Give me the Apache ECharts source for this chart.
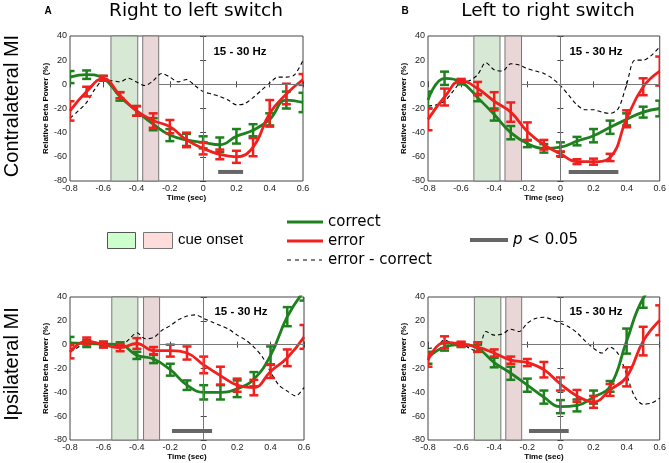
<!DOCTYPE html>
<html>
<head>
<meta charset="utf-8">
<script src="https://cdn.jsdelivr.net/npm/echarts@6/dist/echarts.min.js"></script>
<style>
  html, body { margin: 0; padding: 0; background: #fff; }
  #chart { width: 669px; height: 463px; }
</style>
</head>
<body>
<div id="chart"></div>
<script>
// sample times of the error-bar points (sec)
var time = [-0.8, -0.7, -0.6, -0.5, -0.4, -0.3, -0.2, -0.1, 0, 0.1, 0.2, 0.3, 0.4, 0.5, 0.6];
// finer time base of the error - correct curve
var diffTime = [-0.8, -0.75, -0.7, -0.65, -0.6, -0.55, -0.5, -0.45, -0.4, -0.35, -0.3, -0.25, -0.2, -0.15,
  -0.1, -0.05, 0, 0.05, 0.1, 0.15, 0.2, 0.25, 0.3, 0.35, 0.4, 0.45, 0.5, 0.55, 0.6];

// A : contralateral, right to left
var corrA = [6, 8, 5, -10, -22, -33, -42, -46, -48, -50, -43, -38, -29, -13, -15];
var corrSemA = [5, 3.5, 2, 3.5, 4, 5, 5, 5, 5, 6, 6, 5, 5, 7, 8];
var errA = [-22, -6, 5, -9, -22, -30, -35, -46, -53, -58, -60, -52, -24, -8, 4];
var errSemA = [8, 4, 2, 2.5, 4, 6, 5.5, 6, 5, 4, 5, 7.5, 11, 8.5, 4.5];
var diffA = [-28, -22, -15, -4, 3, 3, 2, 5, 2, -1, 3, 9, 6, 2, 4, -1, -6, -8, -10, -13, -17, -16, -11, -5, 1, 6, 6, 8, 20];

// B : contralateral, left to right
var corrB = [-13, 5, 2, -11, -25, -40, -49, -53, -52, -47, -42.5, -35.5, -29, -23, -20];
var corrSemB = [7, 5.5, 2, 3, 5, 5.5, 3, 3.5, 4, 3.5, 5.5, 5.5, 5, 4.5, 6.5];
var errB = [-29, -10.5, 3, -3.5, -14, -23, -39, -50, -57.5, -64, -64, -60.5, -28.5, -2, 11];
var errSemB = [9, 7, 1.5, 5.5, 7.5, 8, 7.5, 4, 2, 2, 2.5, 3, 7, 7, 12];
var diffB = [-18, -17, -14, -6, 2, 3, 8, 18, 12, 11, 17, 16, 13, 11, 9, 5, -1, -9, -17, -21, -21, -23, -24, -20, 0, 20, 20, 24, 31];

// C : ipsilateral, right to left
var corrC = [1.5, 1, 0.5, 0, -9, -12, -21, -34, -40, -40, -37, -29, -9, 23.5, 45];
var corrSemC = [5, 3, 2, 2, 3, 3.5, 5, 4, 6, 6, 7, 6, 7.5, 8, 8];
var errC = [-6, 3, 0, -2.5, 1, -5, -5, -7, -17, -26, -34, -36, -22.5, -11, 6.5];
var errSemC = [5.5, 3, 2.5, 3, 4.5, 3, 5, 5.5, 7, 7.5, 5.5, 6.5, 5.5, 7, 10];
var diffC = [-6, -2, 4, 1, -1, 0, -1, 4, 10, 5, 6, 12, 16, 21, 24, 25, 22, 19, 16, 13, 8, 4, -2, -10, -23, -34, -39, -43, -36];

// D : ipsilateral, left to right
var corrD = [-11, -2, 0, -3, -15, -24, -34, -44, -52, -51, -44, -35, 3, 39, 52];
var corrSemD = [5, 3, 2, 3, 4, 5.5, 5.5, 5.5, 5.5, 5, 5.5, 4.5, 10.5, 8, 8];
var errD = [-13, 2, 0.5, -2, -7, -13, -15, -21, -33, -43, -48, -38, -27, 3, 20.5];
var errSemD = [5.5, 5, 2, 4, 3, 3, 3, 6.5, 5.5, 5, 5, 5, 8, 12, 12.5];
var diffD = [-3, -2, 4, 1, 1, -3, -6, 11, 8, 9, 13, 11, 18, 22, 23, 21, 18, 15, 10, 3, -3, -7, -2, -8, -25, -44, -50, -49, -45];

// cue onset windows [green start, green end, pink start, pink end] (sec)
var cueA = [-0.554, -0.393, -0.363, -0.267];
var cueB = [-0.523, -0.365, -0.335, -0.235];
var cueC = [-0.55, -0.394, -0.36, -0.264];
var cueD = [-0.52, -0.36, -0.33, -0.234];

// p < 0.05 intervals (sec) and the level they are drawn at
var sigA = [0.09, 0.24];
var sigB = [0.05, 0.35];
var sigC = [-0.19, 0.05];
var sigD = [-0.19, 0.05];
var sigLevel = -72.5;

var xTicks = { min: -0.8, max: 0.6, interval: 0.2 };
var yTicks = { min: -80, max: 40, interval: 20 };

var GREEN = '#1e801e', RED = '#f0201e';

var panels = [
  { box: { left: 70, top: 36, width: 233, height: 145 }, corr: corrA, corrSem: corrSemA, err: errA, errSem: errSemA, diff: diffA, cue: cueA, sig: sigA },
  { box: { left: 428, top: 36, width: 233, height: 145 }, corr: corrB, corrSem: corrSemB, err: errB, errSem: errSemB, diff: diffB, cue: cueB, sig: sigB },
  { box: { left: 70, top: 297, width: 234, height: 143 }, corr: corrC, corrSem: corrSemC, err: errC, errSem: errSemC, diff: diffC, cue: cueC, sig: sigC },
  { box: { left: 428, top: 297, width: 234, height: 143 }, corr: corrD, corrSem: corrSemD, err: errD, errSem: errSemD, diff: diffD, cue: cueD, sig: sigD }
];

function pairs(xs, ys) {
  return ys.map(function (v, i) { return [xs[i], v]; });
}
function triples(xs, ys, es) {
  return ys.map(function (v, i) { return [xs[i], v, es[i]]; });
}

// vertical error bar with caps
function errBar(color) {
  return function (params, api) {
    var x = api.value(0), m = api.value(1), e = api.value(2);
    var top = api.coord([x, m + e]);
    var bot = api.coord([x, m - e]);
    var hw = 4.5;
    var st = { stroke: color, lineWidth: 2.5, fill: null };
    return {
      type: 'group',
      children: [
        { type: 'line', shape: { x1: top[0], y1: top[1], x2: bot[0], y2: bot[1] }, style: st },
        { type: 'line', shape: { x1: top[0] - hw, y1: top[1], x2: top[0] + hw, y2: top[1] }, style: st },
        { type: 'line', shape: { x1: bot[0] - hw, y1: bot[1], x2: bot[0] + hw, y2: bot[1] }, style: st }
      ]
    };
  };
}

var tickFont = { fontFamily: 'Liberation Sans', fontSize: 9, color: '#222' };
var nameFont = { fontFamily: 'Liberation Sans', fontSize: 8, fontWeight: 'bold', color: '#000' };

var grid = [], xAxis = [], yAxis = [], series = [];

panels.forEach(function (p, i) {
  grid.push(Object.assign({ show: true, borderColor: '#444', borderWidth: 1, containLabel: false }, p.box));
});
panels.forEach(function (p, i) {
  xAxis.push({
    gridIndex: i, type: 'value', min: xTicks.min, max: xTicks.max, interval: xTicks.interval,
    axisLine: { show: false }, splitLine: { show: false },
    axisTick: { inside: true, length: 3, lineStyle: { color: '#444' } },
    axisLabel: Object.assign({ margin: 3, formatter: function (v) { return String(+v.toFixed(1)); } }, tickFont),
    name: 'Time (sec)', nameLocation: 'middle', nameGap: 13, nameTextStyle: nameFont
  });
  yAxis.push({
    gridIndex: i, type: 'value', min: yTicks.min, max: yTicks.max, interval: yTicks.interval,
    axisLine: { show: false }, splitLine: { show: false },
    axisTick: { inside: true, length: 3, lineStyle: { color: '#444' } },
    axisLabel: Object.assign({ margin: 3 }, tickFont),
    name: 'Relative Beta Power (%)', nameLocation: 'middle', nameGap: 16, nameTextStyle: nameFont
  });
});
// top / right ticks of the box
panels.forEach(function (p, i) {
  xAxis.push({
    gridIndex: i, type: 'value', position: 'top', min: xTicks.min, max: xTicks.max, interval: xTicks.interval,
    axisLine: { show: false }, splitLine: { show: false }, axisLabel: { show: false },
    axisTick: { inside: true, length: 3, lineStyle: { color: '#444' } }
  });
  yAxis.push({
    gridIndex: i, type: 'value', position: 'right', min: yTicks.min, max: yTicks.max, interval: yTicks.interval,
    axisLine: { show: false }, splitLine: { show: false }, axisLabel: { show: false },
    axisTick: { inside: true, length: 3, lineStyle: { color: '#444' } }
  });
});

panels.forEach(function (p, i) {
  var ax = { xAxisIndex: i, yAxisIndex: i };
  // error - correct, also carries cue shading and reference lines
  series.push(Object.assign({
    name: 'error - correct', type: 'line', data: pairs(diffTime, p.diff), smooth: 0.3,
    showSymbol: false, z: 2,
    lineStyle: { color: '#000', width: 1.1, type: [4, 3] },
    markArea: {
      silent: true,
      data: [
        [{ xAxis: p.cue[0], itemStyle: { color: '#d7e9d5', borderColor: '#777', borderWidth: 1 } }, { xAxis: p.cue[1] }],
        [{ xAxis: p.cue[2], itemStyle: { color: '#e9d6d6', borderColor: '#777', borderWidth: 1 } }, { xAxis: p.cue[3] }]
      ]
    },
    markLine: {
      silent: true, symbol: 'none', label: { show: false },
      lineStyle: { color: '#777', width: 1, type: 'solid' },
      data: [
        [{ coord: [p.cue[3], 0] }, { coord: [xTicks.max, 0] }],
        [{ coord: [0, yTicks.min] }, { coord: [0, yTicks.max] }]
      ]
    }
  }, ax));
  series.push(Object.assign({
    name: 'correct', type: 'line', data: pairs(time, p.corr), smooth: 0.45, showSymbol: false, z: 3,
    lineStyle: { color: GREEN, width: 2.8 }
  }, ax));
  series.push(Object.assign({
    type: 'custom', data: triples(time, p.corr, p.corrSem), renderItem: errBar(GREEN), clip: true, z: 3,
    encode: { x: 0, y: 1 }
  }, ax));
  series.push(Object.assign({
    name: 'error', type: 'line', data: pairs(time, p.err), smooth: 0.45, showSymbol: false, z: 4,
    lineStyle: { color: RED, width: 2.8 }
  }, ax));
  series.push(Object.assign({
    type: 'custom', data: triples(time, p.err, p.errSem), renderItem: errBar(RED), clip: true, z: 4,
    encode: { x: 0, y: 1 }
  }, ax));
  series.push(Object.assign({
    type: 'line', data: [[p.sig[0], sigLevel], [p.sig[1], sigLevel]], showSymbol: false, z: 5,
    lineStyle: { color: '#666', width: 4, cap: 'butt' }
  }, ax));
});

var sans = 'DejaVu Sans';
var graphic = [
  { type: 'text', x: 48, y: 11, style: { text: 'A', font: 'bold 10px Liberation Sans', fill: '#000', align: 'center', verticalAlign: 'middle' } },
  { type: 'text', x: 405, y: 11, style: { text: 'B', font: 'bold 10px Liberation Sans', fill: '#000', align: 'center', verticalAlign: 'middle' } },
  { type: 'text', x: 196, y: 11, style: { text: 'Right to left switch', font: '18.5px ' + sans, fill: '#000', align: 'center', verticalAlign: 'middle' } },
  { type: 'text', x: 548, y: 11, style: { text: 'Left to right switch', font: '18.5px ' + sans, fill: '#000', align: 'center', verticalAlign: 'middle' } },
  { type: 'text', x: 12, y: 106, rotation: Math.PI / 2, style: { text: 'Contralateral MI', font: '20px Liberation Sans', fill: '#000', align: 'center', verticalAlign: 'middle' } },
  { type: 'text', x: 12, y: 364, rotation: Math.PI / 2, style: { text: 'Ipsilateral MI', font: '20px Liberation Sans', fill: '#000', align: 'center', verticalAlign: 'middle' } },
  // legend
  { type: 'rect', shape: { x: 107.5, y: 232.5, width: 28, height: 16 }, style: { fill: '#ccffcc', stroke: '#555', lineWidth: 1 } },
  { type: 'rect', shape: { x: 143.5, y: 232.5, width: 29, height: 16 }, style: { fill: '#ffdcdc', stroke: '#777', lineWidth: 1 } },
  { type: 'text', x: 178, y: 240, style: { text: 'cue onset', font: '15px Liberation Sans', fill: '#000', verticalAlign: 'middle' } },
  { type: 'line', shape: { x1: 287, y1: 222, x2: 323, y2: 222 }, style: { stroke: GREEN, lineWidth: 3 } },
  { type: 'text', x: 328, y: 222, style: { text: 'correct', font: '15px ' + sans, fill: '#000', verticalAlign: 'middle' } },
  { type: 'line', shape: { x1: 287, y1: 241, x2: 323, y2: 241 }, style: { stroke: RED, lineWidth: 3 } },
  { type: 'text', x: 328, y: 241, style: { text: 'error', font: '15px ' + sans, fill: '#000', verticalAlign: 'middle' } },
  { type: 'line', shape: { x1: 287, y1: 260, x2: 322, y2: 260 }, style: { stroke: '#000', lineWidth: 1.2, lineDash: [4, 4] } },
  { type: 'text', x: 328, y: 260, style: { text: 'error - correct', font: '15px ' + sans, fill: '#000', verticalAlign: 'middle' } },
  { type: 'line', shape: { x1: 470, y1: 240, x2: 508, y2: 240 }, style: { stroke: '#666', lineWidth: 4 } },
  { type: 'text', x: 513, y: 240, style: { text: '{i|p} < 0.05', font: '15px ' + sans, fill: '#000', verticalAlign: 'middle',
      rich: { i: { fontStyle: 'italic', fontSize: 15, fontFamily: sans } } } }
];
// band label in each panel
var bandPos = [[240, 52], [596, 52], [241, 312], [596, 312]];
bandPos.forEach(function (b) {
  graphic.push({ type: 'text', x: b[0], y: b[1], style: { text: '15 - 30 Hz', font: 'bold 11.5px Liberation Sans', fill: '#000', align: 'center', verticalAlign: 'middle' } });
});

var chart = echarts.init(document.getElementById('chart'));
chart.setOption({
  animation: false,
  backgroundColor: '#fff',
  grid: grid,
  xAxis: xAxis,
  yAxis: yAxis,
  series: series,
  graphic: graphic
});
</script>
</body>
</html>
